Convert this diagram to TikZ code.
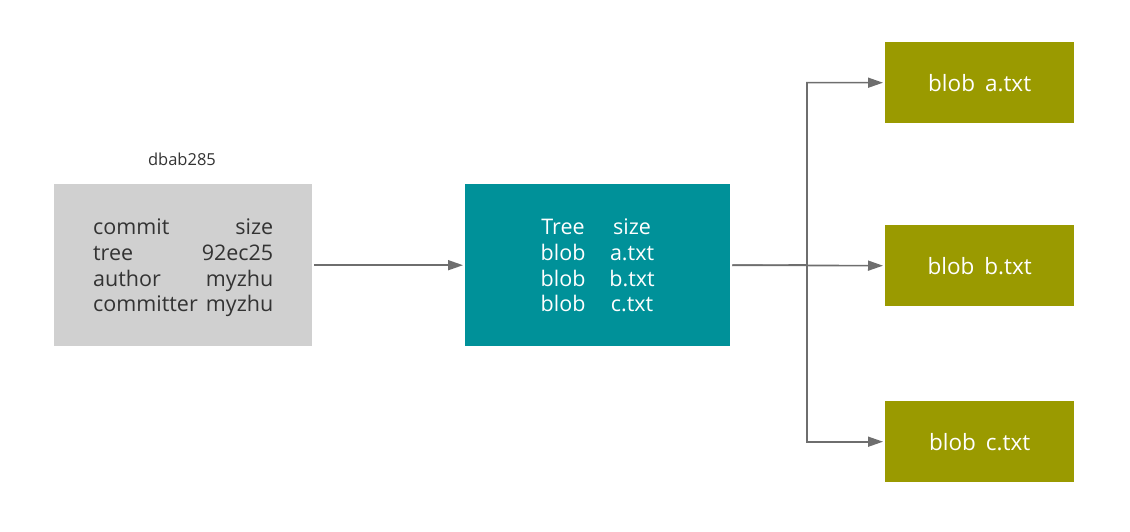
\documentclass[tikz,border=0pt]{standalone}
\usepackage{fontspec}
\setmainfont{Open Sans}
\usetikzlibrary{arrows.meta}
\definecolor{boxgray}{HTML}{D0D0D0}
\definecolor{treeteal}{HTML}{009199}
\definecolor{blobolive}{HTML}{9A9A00}
\definecolor{linegray}{HTML}{6E6E6E}
\definecolor{txtdark}{HTML}{333333}
\tikzset{
  objbox/.style={rectangle, inner sep=0pt, anchor=north west},
  link/.style={draw=linegray, line width=1.6pt, -{Triangle[length=15pt,width=10pt]}}
}

\begin{document}
\begin{tikzpicture}[x=1pt, y=-1pt, font=\fontsize{21.5}{25.7}\selectfont]
                \useasboundingbox (0,0) rectangle (1130,532);

                \node[objbox, fill=boxgray, minimum width=258pt, minimum height=162pt] (commit) at (54,184) {};
                \node[text=txtdark, align=left] at ([yshift=-3pt]commit.center) {\begin{tabular}{@{}l@{\hspace{4pt}}r@{}}commit & size\\tree & 92ec25\\author & myzhu\\committer & myzhu\end{tabular}};
                \node[text=txtdark, font=\fontsize{16.5}{20}\selectfont] (hash) at (182,159) {dbab285};

                \node[objbox, fill=treeteal, minimum width=265pt, minimum height=162pt] (tree) at (465,184) {};
                \node[text=white] at ([yshift=-3pt]tree.center) {\begin{tabular}{@{}c@{\hspace{24pt}}c@{}}Tree & size\\blob & a.txt\\blob & b.txt\\blob & c.txt\end{tabular}};

                \node[objbox, fill=blobolive, minimum width=189pt, minimum height=81pt, text=white] (ba) at (885,42) {};
                \node[text=white, font=\fontsize{22.5}{26}\selectfont] at (ba.center) {blob\hspace{10pt}a.txt};
                \node[objbox, fill=blobolive, minimum width=189pt, minimum height=81pt, text=white] (bb) at (885,225) {};
                \node[text=white, font=\fontsize{22.5}{26}\selectfont] at (bb.center) {blob\hspace{10pt}b.txt};
                \node[objbox, fill=blobolive, minimum width=189pt, minimum height=81pt, text=white] (bc) at (885,401) {};
                \node[text=white, font=\fontsize{22.5}{26}\selectfont] at (bc.center) {blob\hspace{10pt}c.txt};

                \coordinate (fork) at (807,265);

                \draw[link, shorten <=2pt, shorten >=2pt] (commit.east) -- (tree.west);
                \draw[link, shorten >=2pt] ([xshift=2pt]tree.east) -- (fork) |- (ba.west);
                \draw[link, shorten >=2pt] ([xshift=2pt]tree.east) -- (bb.west);
                \draw[link, shorten >=2pt] (fork) |- (bc.west);
            \end{tikzpicture}
\end{document}
